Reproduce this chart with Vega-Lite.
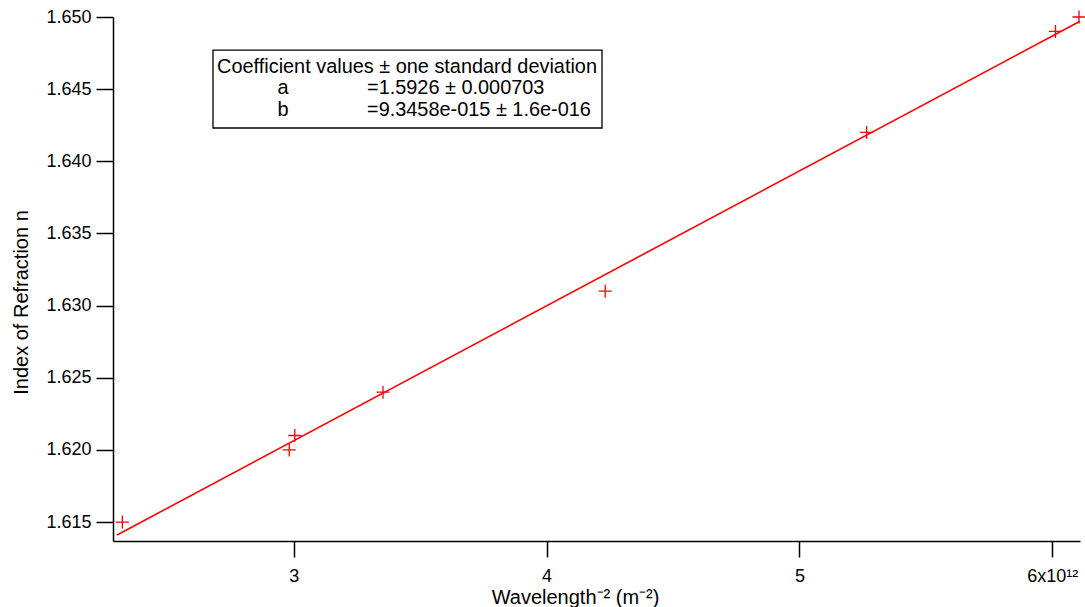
{
  "$schema": "https://vega.github.io/schema/vega-lite/v6.json",
  "width": 967,
  "height": 524,
  "autosize": {"type": "none"},
  "padding": {"left": 113, "top": 17, "right": 5, "bottom": 66},
  "background": "white",
  "config": {"view": {"stroke": null}, "font": "Liberation Sans"},
  "datasets": {
    "pts": [
      {"x": 2.322e12, "y": 1.615},
      {"x": 2.982e12, "y": 1.620},
      {"x": 3.004e12, "y": 1.621},
      {"x": 3.353e12, "y": 1.624},
      {"x": 4.232e12, "y": 1.631},
      {"x": 5.266e12, "y": 1.642},
      {"x": 6.013e12, "y": 1.649},
      {"x": 6.106e12, "y": 1.650}
    ],
    "fit": [
      {"x": 2.301e12, "y": 1.614105},
      {"x": 6.11e12, "y": 1.649703}
    ],
    "box": [
      {"x": 2.6806e12, "x2": 4.2193e12, "y": 1.64771, "y2": 1.64231}
    ],
    "head": [
      {"x": 3.448e12, "y": 1.646535, "t": "Coefficient values ± one standard deviation"}
    ],
    "names": [
      {"x": 2.9575e12, "y": 1.645079, "t": "a"},
      {"x": 2.9575e12, "y": 1.643555, "t": "b"}
    ],
    "vals": [
      {"x": 3.2898e12, "y": 1.645079, "t": "=1.5926 ± 0.000703"},
      {"x": 3.2898e12, "y": 1.643555, "t": "=9.3458e-015 ± 1.6e-016"}
    ]
  },
  "encoding": {
    "x": {
      "field": "x",
      "type": "quantitative",
      "scale": {"domain": [2.285e12, 6.11e12], "nice": false, "zero": false},
      "axis": {
        "values": [3e12, 4e12, 5e12, 6e12],
        "labelExpr": "datum.value >= 5.5e12 ? '6x10¹²' : format(datum.value/1e12, 'd')",
        "title": "Wavelength⁻²  (m⁻²)",
        "grid": false,
        "tickSize": 16,
        "tickWidth": 1.5,
        "tickColor": "black",
        "domainWidth": 1.5,
        "domainColor": "black",
        "labelColor": "black",
        "labelFont": "Liberation Sans",
        "labelFontSize": 18,
        "labelPadding": 10,
        "labelFlush": false,
        "labelOverlap": false,
        "titleFont": "Liberation Sans",
        "titleFontSize": 20,
        "titleFontWeight": "normal",
        "titleColor": "black",
        "titleX": 462,
        "titleY": 62,
        "titleBaseline": "alphabetic",
        "titleAlign": "center"
      }
    },
    "y": {
      "field": "y",
      "type": "quantitative",
      "scale": {"domain": [1.61369, 1.65], "nice": false, "zero": false},
      "axis": {
        "values": [1.615, 1.62, 1.625, 1.63, 1.635, 1.64, 1.645, 1.65],
        "format": ".3f",
        "title": "Index of Refraction n",
        "grid": false,
        "tickSize": 17,
        "tickWidth": 1.5,
        "tickColor": "black",
        "domainWidth": 1.5,
        "domainColor": "black",
        "labelColor": "black",
        "labelFont": "Liberation Sans",
        "labelFontSize": 18,
        "labelPadding": 5,
        "labelFlush": false,
        "labelOverlap": false,
        "titleFont": "Liberation Sans",
        "titleFontSize": 20,
        "titleFontWeight": "normal",
        "titleColor": "black",
        "titleAngle": 270,
        "titleX": -92,
        "titleY": 285,
        "titleBaseline": "middle",
        "titleAlign": "center"
      }
    }
  },
  "layer": [
    {
      "data": {"name": "box"},
      "mark": {"type": "rect", "fill": "white", "stroke": "black", "strokeWidth": 1.3},
      "encoding": {
        "x2": {"field": "x2"},
        "y2": {"field": "y2"}
      }
    },
    {
      "data": {"name": "head"},
      "mark": {"type": "text", "align": "center", "baseline": "middle", "fontSize": 19.9, "color": "black", "font": "Liberation Sans"},
      "encoding": {"text": {"field": "t"}}
    },
    {
      "data": {"name": "names"},
      "mark": {"type": "text", "align": "center", "baseline": "middle", "fontSize": 19.9, "color": "black", "font": "Liberation Sans"},
      "encoding": {"text": {"field": "t"}}
    },
    {
      "data": {"name": "vals"},
      "mark": {"type": "text", "align": "left", "baseline": "middle", "fontSize": 19.9, "color": "black", "font": "Liberation Sans"},
      "encoding": {"text": {"field": "t"}}
    },
    {
      "data": {"name": "fit"},
      "mark": {"type": "line", "color": "#ff0000", "strokeWidth": 1.6},
      "encoding": {}
    },
    {
      "data": {"name": "pts"},
      "mark": {"type": "point", "shape": "M-1,0H1M0,-1V1", "size": 170, "filled": false, "stroke": "#ff0000", "strokeWidth": 1.3, "opacity": 1},
      "encoding": {}
    }
  ]
}
